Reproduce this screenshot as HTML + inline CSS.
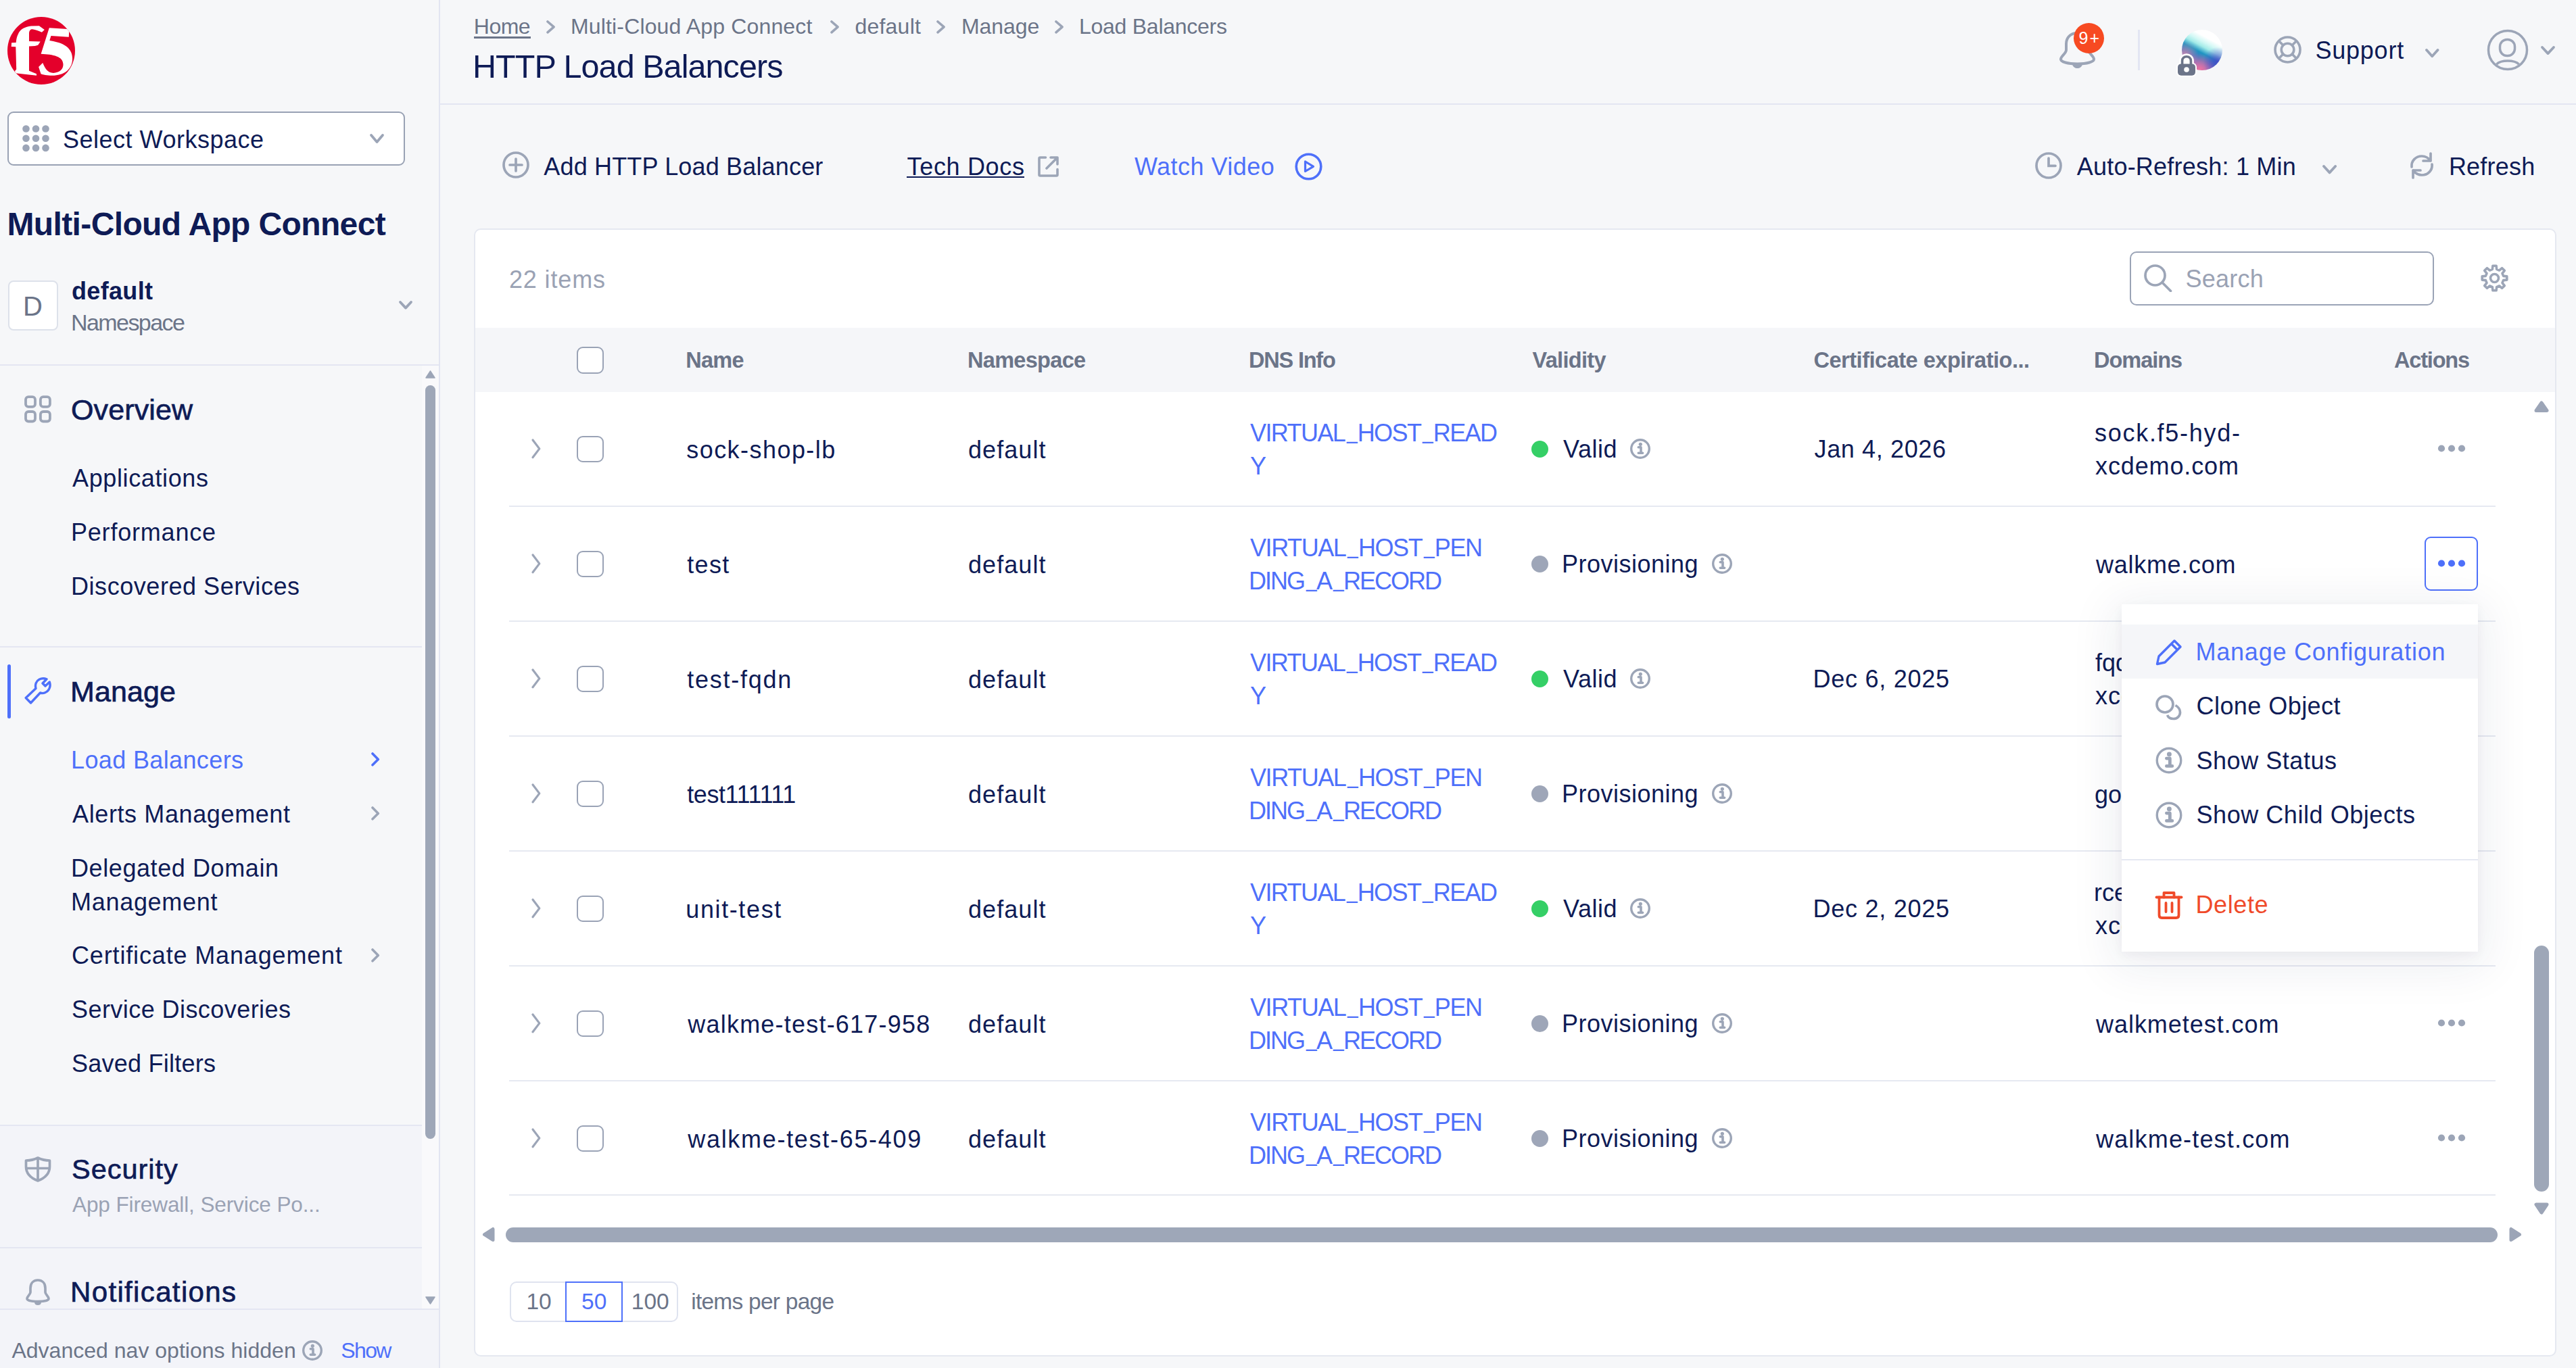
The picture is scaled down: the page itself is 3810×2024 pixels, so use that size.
<!DOCTYPE html>
<html><head><meta charset="utf-8"><style>
html,body{margin:0;padding:0;}
body{width:3810px;height:2024px;overflow:hidden;position:relative;background:#f6f7f9;font-family:"Liberation Sans",sans-serif;}
.t{position:absolute;white-space:pre;}
.r{position:absolute;}
.us{display:inline-block;transform:translate(1px,-4px) scaleX(0.78);}
.sec{position:absolute;left:0;top:1666px;width:648.5px;height:358px;background:#f3f4f9;}
</style></head><body>
<div class="sec"></div>
<div class="r" style="left:648.5px;top:0px;width:2px;height:2024px;background:#e2e5f1"></div>
<svg class="r" style="left:11px;top:25px" width="100" height="100" viewBox="0 0 100 100" fill="none"><defs><clipPath id="lc"><circle cx="50" cy="50" r="50"/></clipPath></defs>
<circle cx="50" cy="50" r="50" fill="#e4002b"/>
<g clip-path="url(#lc)" fill="#fff">
<path d="M11 80.3 L13.2 77.6 L12.3 44.3 L5.7 43.9 L6.1 38.2 L12.7 38 C13.5 30 15 27 17 23 C20 18 26 14.5 35 13.5 L46.9 13.2 L54.8 18.9 L50.9 22.8 C46 20.5 42 18.8 37 18.2 C34 18.2 32.3 20 32 24 L32 36 L48.7 36.4 L45.2 41.7 L40.8 43 L32 43.4 L32 79.8 L43 84.2 L43 86.8 L11.8 83.3 Z"/>
<path d="M61.8 16.2 L89 18 L91.2 20.2 L90.8 29.8 L64.5 28.1 L62.3 35.1 C76.8 37.3 96.1 42.5 96.1 61.8 C96.1 77.6 83.8 86.8 66.2 86.8 C58.3 86.8 52.2 85.5 49.6 84.6 L46.1 74.1 L52.2 68 C55.7 75.9 59.2 82.9 68 82.9 C76.8 82.9 82.5 77.6 82.5 70.6 C82.5 58.3 68 55.7 49.6 54.8 Z"/>
</g></svg>
<div class="r" style="left:11px;top:165px;width:588px;height:80px;border:2px solid #99a2b4;border-radius:9px;background:#fff;box-sizing:border-box"></div>
<svg class="r" style="left:33px;top:185px" width="41" height="40" viewBox="0 0 41 40" fill="none"><circle cx="5.5" cy="5.5" r="5.3" fill="#9ca5b7"/><circle cx="5.5" cy="19.7" r="5.3" fill="#9ca5b7"/><circle cx="5.5" cy="33.9" r="5.3" fill="#9ca5b7"/><circle cx="20.0" cy="5.5" r="5.3" fill="#9ca5b7"/><circle cx="20.0" cy="19.7" r="5.3" fill="#9ca5b7"/><circle cx="20.0" cy="33.9" r="5.3" fill="#9ca5b7"/><circle cx="34.5" cy="5.5" r="5.3" fill="#9ca5b7"/><circle cx="34.5" cy="19.7" r="5.3" fill="#9ca5b7"/><circle cx="34.5" cy="33.9" r="5.3" fill="#9ca5b7"/></svg>
<div class="t" style="left:93.00px;top:183.03px;font-size:36px;line-height:47px;color:#0e1b56;letter-spacing:0.504px;">Select Workspace</div>
<svg class="r" style="left:546.0px;top:197.2px" width="23.0" height="16.100000000000023" viewBox="0 0 23.0 16.100000000000023" fill="none"><path d="M3 3 L11.5 13.100000000000023 L20.0 3" stroke="#9ca5b7" stroke-width="3.8" stroke-linecap="round" stroke-linejoin="round"/></svg>
<div class="t" style="left:10.50px;top:300.87px;font-size:48px;line-height:62px;color:#0e1b56;letter-spacing:-0.632px;font-weight:700;">Multi-Cloud App Connect</div>
<div class="r" style="left:11.5px;top:414.5px;width:74px;height:74px;border:2px solid #dde1ea;border-radius:8px;background:#fff;box-sizing:border-box"></div>
<div class="t" style="left:34.00px;top:427.14px;font-size:40px;line-height:52px;color:#6b7488;letter-spacing:0.000px;">D</div>
<div class="t" style="left:106.00px;top:406.53px;font-size:36px;line-height:47px;color:#0e1b56;letter-spacing:0.331px;font-weight:700;">default</div>
<div class="t" style="left:105.00px;top:454.72px;font-size:34px;line-height:44px;color:#6b7488;letter-spacing:-1.564px;">Namespace</div>
<svg class="r" style="left:588.5px;top:444.2px" width="22.0" height="14.600000000000023" viewBox="0 0 22.0 14.600000000000023" fill="none"><path d="M3 3 L11.0 11.600000000000023 L19.0 3" stroke="#9ca5b7" stroke-width="3.8" stroke-linecap="round" stroke-linejoin="round"/></svg>
<div class="r" style="left:0px;top:539px;width:649px;height:2px;background:#e4e6f2"></div>
<div class="r" style="left:624px;top:541px;width:24.5px;height:1395px;background:#f9f9fb"></div>
<svg class="r" style="left:629px;top:548px" width="15" height="12" viewBox="0 0 15 12" fill="none"><path d="M7.5 1 L14 11 L1 11 Z" fill="#9ca5b7" stroke="#9ca5b7" stroke-linejoin="round" stroke-width="1.5"/></svg>
<div class="r" style="left:629px;top:570px;width:15px;height:1115px;background:#9ea7b8;border-radius:8px"></div>
<svg class="r" style="left:629px;top:1918px" width="15" height="12" viewBox="0 0 15 12" fill="none"><path d="M1 1 L14 1 L7.5 11 Z" fill="#9ca5b7" stroke="#9ca5b7" stroke-linejoin="round" stroke-width="1.5"/></svg>
<svg class="r" style="left:36px;top:585px" width="40" height="41" viewBox="0 0 40 41" fill="none"><g stroke="#9ca5b7" stroke-width="3.8" fill="none"><rect x="2" y="2.2" width="14" height="14.7" rx="4"/><rect x="23.9" y="2.2" width="14" height="14.7" rx="4"/><rect x="2" y="24" width="14" height="14.5" rx="4"/><rect x="23.9" y="24" width="14" height="14.5" rx="4"/></g></svg>
<div class="t" style="left:105.00px;top:578.10px;font-size:43px;line-height:56px;color:#0e1b56;letter-spacing:0.122px;-webkit-text-stroke:0.7px currentColor;">Overview</div>
<div class="t" style="left:107.00px;top:684.03px;font-size:36px;line-height:47px;color:#0e1b56;letter-spacing:0.626px;">Applications</div>
<div class="t" style="left:105.00px;top:764.03px;font-size:36px;line-height:47px;color:#0e1b56;letter-spacing:0.794px;">Performance</div>
<div class="t" style="left:105.00px;top:844.03px;font-size:36px;line-height:47px;color:#0e1b56;letter-spacing:0.549px;">Discovered Services</div>
<div class="r" style="left:0px;top:956px;width:624px;height:2px;background:#e4e6f2"></div>
<div class="r" style="left:11px;top:983px;width:5px;height:80px;background:#4e70fa;border-radius:3px"></div>
<svg class="r" style="left:36px;top:1002px" width="40" height="40" viewBox="0 0 40 40" fill="none"><path d="M2.2 30.5 L17 16.5 C15.5 11 17.5 5.5 22 3.2 C25.5 1.5 29.5 1.5 33 2.8 L27 9 L31 13 L37.3 7 C38.5 10.5 38.3 14.5 36.3 18 C33.5 22.5 28.5 24.5 23.5 23 L9.5 38 Z" stroke="#4e70fa" stroke-width="3.4" stroke-linejoin="round"/></svg>
<div class="t" style="left:104.00px;top:995.10px;font-size:43px;line-height:56px;color:#0e1b56;letter-spacing:0.104px;-webkit-text-stroke:0.7px currentColor;">Manage</div>
<div class="t" style="left:105.00px;top:1100.53px;font-size:36px;line-height:47px;color:#4e70fa;letter-spacing:0.371px;">Load Balancers</div>
<svg class="r" style="left:548.1px;top:1111.6px" width="14.299999999999955" height="22.800000000000182" viewBox="0 0 14.299999999999955 22.800000000000182" fill="none"><path d="M3 3 L11.299999999999955 11.400000000000091 L3 19.800000000000182" stroke="#4e70fa" stroke-width="3.6" stroke-linecap="round" stroke-linejoin="round"/></svg>
<div class="t" style="left:107.00px;top:1180.53px;font-size:36px;line-height:47px;color:#0e1b56;letter-spacing:0.616px;">Alerts Management</div>
<svg class="r" style="left:548.1px;top:1191.6px" width="14.299999999999955" height="22.800000000000182" viewBox="0 0 14.299999999999955 22.800000000000182" fill="none"><path d="M3 3 L11.299999999999955 11.400000000000091 L3 19.800000000000182" stroke="#9ca5b7" stroke-width="3.6" stroke-linecap="round" stroke-linejoin="round"/></svg>
<div class="t" style="left:105.00px;top:1260.53px;font-size:36px;line-height:47px;color:#0e1b56;letter-spacing:0.590px;">Delegated Domain</div>
<div class="t" style="left:105.00px;top:1310.53px;font-size:36px;line-height:47px;color:#0e1b56;letter-spacing:0.708px;">Management</div>
<div class="t" style="left:106.00px;top:1390.03px;font-size:36px;line-height:47px;color:#0e1b56;letter-spacing:0.848px;">Certificate Management</div>
<svg class="r" style="left:548.1px;top:1401.6px" width="14.299999999999955" height="22.800000000000182" viewBox="0 0 14.299999999999955 22.800000000000182" fill="none"><path d="M3 3 L11.299999999999955 11.400000000000091 L3 19.800000000000182" stroke="#9ca5b7" stroke-width="3.6" stroke-linecap="round" stroke-linejoin="round"/></svg>
<div class="t" style="left:106.00px;top:1470.03px;font-size:36px;line-height:47px;color:#0e1b56;letter-spacing:0.439px;">Service Discoveries</div>
<div class="t" style="left:106.00px;top:1550.03px;font-size:36px;line-height:47px;color:#0e1b56;letter-spacing:0.244px;">Saved Filters</div>
<div class="r" style="left:0px;top:1664px;width:624px;height:2px;background:#e4e6f2"></div>
<svg class="r" style="left:36px;top:1711px" width="40" height="38" viewBox="0 0 40 38" fill="none"><path d="M20 2 C14 5 8 6 2.5 6 L2.5 15 C2.5 25 9.5 32 20 36 C30.5 32 37.5 25 37.5 15 L37.5 6 C32 6 26 5 20 2 Z M20 2.5 L20 35.5 M2.8 17.5 L37.2 17.5" stroke="#9ca5b7" stroke-width="3.7" stroke-linejoin="round"/></svg>
<div class="t" style="left:106.00px;top:1702.62px;font-size:41.5px;line-height:54px;color:#0e1b56;letter-spacing:0.977px;-webkit-text-stroke:0.7px currentColor;">Security</div>
<div class="t" style="left:107.00px;top:1761.59px;font-size:31.5px;line-height:41px;color:#9aa2b4;letter-spacing:-0.101px;">App Firewall, Service Po...</div>
<div class="r" style="left:0px;top:1845px;width:624px;height:2px;background:#e4e6f2"></div>
<svg class="r" style="left:36px;top:1891px" width="40" height="41" viewBox="0 0 40 41" fill="none"><path d="M20 3 C12.5 3 9 8.5 9 15 L9 21 C9 24 4 27 4 30.5 C4 33 10 34.5 20 34.5 C30 34.5 36 33 36 30.5 C36 27 31 24 31 21 L31 15 C31 8.5 27.5 3 20 3 Z" stroke="#9ca5b7" stroke-width="3.7" stroke-linejoin="round"/><path d="M15 35.5 C15 38.5 17 40 20 40 C23 40 25 38.5 25 35.5 Z" fill="#9ca5b7"/></svg>
<div class="t" style="left:104.00px;top:1884.25px;font-size:42px;line-height:55px;color:#0e1b56;letter-spacing:1.353px;-webkit-text-stroke:0.7px currentColor;">Notifications</div>
<div class="r" style="left:0px;top:1936px;width:649px;height:2px;background:#e4e6f2"></div>
<div class="t" style="left:17.40px;top:1976.91px;font-size:32px;line-height:42px;color:#6b7488;letter-spacing:0.016px;">Advanced nav options hidden</div>
<svg class="r" style="left:447px;top:1983px" width="30" height="30" viewBox="0 0 30 30" fill="none"><g transform="scale(1.0)"><circle cx="15" cy="15" r="13.3" stroke="#9ca5b7" stroke-width="3.4"/><circle cx="15.3" cy="8.3" r="2.6" fill="#9ca5b7"/><path d="M12.3 12.8 L16 12.8 L16 20.8 M12.3 21.3 L18.6 21.3" stroke="#9ca5b7" stroke-width="3.6" stroke-linecap="round" stroke-linejoin="round"/></g></svg>
<div class="t" style="left:504.30px;top:1976.91px;font-size:32px;line-height:42px;color:#4e70fa;letter-spacing:-1.646px;">Show</div>
<div class="r" style="left:650px;top:152.5px;width:3160px;height:2px;background:#e3e6f2"></div>
<div class="t" style="left:700.80px;top:18.01px;font-size:32px;line-height:42px;color:#6b7488;letter-spacing:-0.521px;">Home</div>
<div class="r" style="left:701px;top:54.3px;width:84px;height:2.3px;background:#6b7488"></div>
<svg class="r" style="left:807.4px;top:28.6px" width="15.099999999999909" height="21.799999999999997" viewBox="0 0 15.099999999999909 21.799999999999997" fill="none"><path d="M3 3 L12.099999999999909 10.899999999999999 L3 18.799999999999997" stroke="#9ca5b7" stroke-width="3.6" stroke-linecap="round" stroke-linejoin="round"/></svg>
<svg class="r" style="left:1227.1px;top:28.6px" width="15.100000000000136" height="21.799999999999997" viewBox="0 0 15.100000000000136 21.799999999999997" fill="none"><path d="M3 3 L12.100000000000136 10.899999999999999 L3 18.799999999999997" stroke="#9ca5b7" stroke-width="3.6" stroke-linecap="round" stroke-linejoin="round"/></svg>
<svg class="r" style="left:1384.1px;top:28.6px" width="15.100000000000136" height="21.799999999999997" viewBox="0 0 15.100000000000136 21.799999999999997" fill="none"><path d="M3 3 L12.100000000000136 10.899999999999999 L3 18.799999999999997" stroke="#9ca5b7" stroke-width="3.6" stroke-linecap="round" stroke-linejoin="round"/></svg>
<svg class="r" style="left:1558.6px;top:28.6px" width="15.100000000000136" height="21.799999999999997" viewBox="0 0 15.100000000000136 21.799999999999997" fill="none"><path d="M3 3 L12.100000000000136 10.899999999999999 L3 18.799999999999997" stroke="#9ca5b7" stroke-width="3.6" stroke-linecap="round" stroke-linejoin="round"/></svg>
<div class="t" style="left:844.00px;top:18.01px;font-size:32px;line-height:42px;color:#6b7488;letter-spacing:0.153px;">Multi-Cloud App Connect</div>
<div class="t" style="left:1264.40px;top:18.01px;font-size:32px;line-height:42px;color:#6b7488;letter-spacing:0.235px;">default</div>
<div class="t" style="left:1422.00px;top:18.01px;font-size:32px;line-height:42px;color:#6b7488;letter-spacing:-0.069px;">Manage</div>
<div class="t" style="left:1596.00px;top:18.01px;font-size:32px;line-height:42px;color:#6b7488;letter-spacing:-0.260px;">Load Balancers</div>
<div class="t" style="left:699.00px;top:66.69px;font-size:48.5px;line-height:63px;color:#0e1b56;letter-spacing:-0.938px;">HTTP Load Balancers</div>
<svg class="r" style="left:3045px;top:45px" width="56" height="57" viewBox="0 0 56 57" fill="none"><path d="M27 4 C17 4 11 11 11 20 L11 29 C11 34 3 38 3 42.5 C3 46.5 13 49.5 27.5 49.5 C42 49.5 52 46.5 52 42.5 C52 38 44 34 44 29 L44 20 C44 11 37 4 27 4 Z" stroke="#9ca5b7" stroke-width="4" stroke-linejoin="round"/><path d="M20 50 C21 54 24 56 27.5 56 C31 56 34 54 35 50 Z" fill="#9ca5b7"/></svg>
<div class="r" style="left:3067px;top:34px;width:45px;height:45px;background:#f74a22;border-radius:50%"></div>
<div class="t" style="left:3074.50px;top:40.34px;font-size:25px;line-height:32px;color:#fff;letter-spacing:2.096px;">9+</div>
<div class="r" style="left:3162px;top:44px;width:3px;height:60px;background:#e3e6f3"></div>
<div class="r" style="left:3227px;top:44px;width:60px;height:60px;border-radius:50%;background:radial-gradient(circle at 88% 78%,rgba(80,50,200,0.7),rgba(80,50,200,0) 30%),radial-gradient(circle at 8% 62%,rgba(225,140,170,0.75),rgba(225,140,170,0) 30%),radial-gradient(circle at 45% 98%,rgba(240,115,160,0.95),rgba(240,115,160,0) 35%),linear-gradient(208deg,#ffffff 0%,#ffffff 26%,#d2f8f5 36%,#a3ebe8 44%,#1f94c2 55%,#3f78c2 66%,#8a6cc0 80%,#e27aa6 100%)"></div>
<svg class="r" style="left:3216px;top:76px" width="34" height="40" viewBox="0 0 34 40" fill="none"><g stroke="#fff" stroke-width="9" fill="#fff"><path d="M11.6 19 L11.6 14 C11.6 9.8 14.5 7.7 18 7.7 C21.5 7.7 24.4 9.8 24.4 14 L24.4 19 Z"/></g><rect x="3" y="16.4" width="30" height="21.3" rx="7" fill="#fff"/><path d="M11.6 19 L11.6 14 C11.6 9.8 14.5 7.7 18 7.7 C21.5 7.7 24.4 9.8 24.4 14 L24.4 19" stroke="#6b7489" stroke-width="3.6" fill="none"/><rect x="5" y="18.4" width="26" height="17.3" rx="5" fill="#6b7489"/><circle cx="18" cy="27" r="3.8" fill="#fff"/></svg>
<svg class="r" style="left:3363px;top:53px" width="41" height="41" viewBox="0 0 41 41" fill="none"><g stroke="#9ca5b7" stroke-width="3.6"><circle cx="20.5" cy="20.5" r="18.5"/><circle cx="20.5" cy="20.5" r="9.3"/><path d="M7.4 7.4 L13.9 13.9 M33.6 7.4 L27.1 13.9 M7.4 33.6 L13.9 27.1 M33.6 33.6 L27.1 27.1"/></g></svg>
<div class="t" style="left:3424.40px;top:50.53px;font-size:36px;line-height:47px;color:#0e1b56;letter-spacing:0.786px;">Support</div>
<svg class="r" style="left:3585.5px;top:70.9px" width="22.5" height="15.199999999999989" viewBox="0 0 22.5 15.199999999999989" fill="none"><path d="M3 3 L11.25 12.199999999999989 L19.5 3" stroke="#9ca5b7" stroke-width="3.8" stroke-linecap="round" stroke-linejoin="round"/></svg>
<svg class="r" style="left:3678px;top:43px" width="62" height="62" viewBox="0 0 62 62" fill="none"><g stroke="#9ca5b7" stroke-width="3.5"><circle cx="31" cy="31" r="28.5"/><rect x="19.5" y="15.5" width="22" height="24" rx="10.5"/><path d="M14.5 52 C18 48.5 24 47 31 47 C38 47 44 48.5 47.5 52"/></g></svg>
<svg class="r" style="left:3757.0px;top:67.2px" width="23.0" height="15.099999999999994" viewBox="0 0 23.0 15.099999999999994" fill="none"><path d="M3 3 L11.5 12.099999999999994 L20.0 3" stroke="#9ca5b7" stroke-width="3.8" stroke-linecap="round" stroke-linejoin="round"/></svg>
<svg class="r" style="left:743px;top:223.5px" width="40" height="40" viewBox="0 0 40 40" fill="none"><g stroke="#9ca5b7" stroke-width="3.7" stroke-linecap="round"><circle cx="20" cy="20" r="18"/><path d="M20 11 L20 29 M11 20 L29 20"/></g></svg>
<div class="t" style="left:804.30px;top:223.13px;font-size:36px;line-height:47px;color:#0e1b56;letter-spacing:0.165px;">Add HTTP Load Balancer</div>
<div class="t" style="left:1341.50px;top:223.13px;font-size:36px;line-height:47px;color:#0e1b56;letter-spacing:0.679px;">Tech Docs</div>
<div class="r" style="left:1341px;top:260.5px;width:173.5px;height:2.5px;background:#0e1b56"></div>
<svg class="r" style="left:1534.5px;top:230.5px" width="31" height="31" viewBox="0 0 31 31" fill="none"><g stroke="#9ca5b7" stroke-width="3.6" stroke-linecap="round" stroke-linejoin="round"><path d="M11.5 2 L3.5 2 C2.5 2 2 2.5 2 3.5 L2 27.5 C2 28.5 2.5 29 3.5 29 L27.5 29 C28.5 29 29 28.5 29 27.5 L29 19.5"/><path d="M13 18 L28.5 2.5 M19 2 L29 2 L29 12"/></g></svg>
<div class="t" style="left:1678.00px;top:222.63px;font-size:36px;line-height:47px;color:#4e70fa;letter-spacing:0.471px;">Watch Video</div>
<svg class="r" style="left:1915px;top:225.5px" width="41" height="41" viewBox="0 0 41 41" fill="none"><circle cx="20.5" cy="20.5" r="18.3" stroke="#4e70fa" stroke-width="3.6"/><path d="M15.5 13 L15.5 27.5 L27.5 20.3 Z" stroke="#4e70fa" stroke-width="3.2" stroke-linejoin="round"/></svg>
<svg class="r" style="left:3009.5px;top:225px" width="40" height="40" viewBox="0 0 40 40" fill="none"><g stroke="#9ca5b7" stroke-width="3.7" stroke-linecap="round"><circle cx="20" cy="20" r="18"/><path d="M20 9 L20 20.3 L30 20.3"/></g></svg>
<div class="t" style="left:3071.70px;top:223.13px;font-size:36px;line-height:47px;color:#0e1b56;letter-spacing:0.222px;">Auto-Refresh: 1 Min</div>
<svg class="r" style="left:3434.2px;top:242.7px" width="23.100000000000364" height="15.400000000000034" viewBox="0 0 23.100000000000364 15.400000000000034" fill="none"><path d="M3 3 L11.550000000000182 12.400000000000034 L20.100000000000364 3" stroke="#9ca5b7" stroke-width="3.8" stroke-linecap="round" stroke-linejoin="round"/></svg>
<svg class="r" style="left:3564px;top:225px" width="36" height="40" viewBox="0 0 36 40" fill="none"><g stroke="#9ca5b7" stroke-width="3.7" stroke-linecap="round" stroke-linejoin="round"><path d="M3 22 C2 13 9 6 18 6 C24 6 28 9 31 13 M31 2 L31 13 L20 13"/><path d="M33 18 C34 27 27 34 18 34 C12 34 8 31 5 27 M5 38 L5 27 L16 27"/></g></svg>
<div class="t" style="left:3621.90px;top:223.13px;font-size:36px;line-height:47px;color:#0e1b56;letter-spacing:0.211px;">Refresh</div>
<div class="r" style="left:701px;top:338px;width:3080px;height:1669px;border:2px solid #e5e8f0;border-radius:10px;background:#fff;box-sizing:border-box"></div>
<div class="t" style="left:753.00px;top:390.03px;font-size:36px;line-height:47px;color:#9aa2b4;letter-spacing:0.849px;">22 items</div>
<div class="r" style="left:3150px;top:372px;width:449.5px;height:79.5px;border:2px solid #9aa3b6;border-radius:10px;background:#fff;box-sizing:border-box"></div>
<svg class="r" style="left:3171px;top:391px" width="42" height="41" viewBox="0 0 42 41" fill="none"><g stroke="#9ca5b7" stroke-width="3.7" stroke-linecap="round"><circle cx="16.5" cy="16.5" r="14.5"/><path d="M27 27 L39.5 39.5"/></g></svg>
<div class="t" style="left:3232.40px;top:389.13px;font-size:36px;line-height:47px;color:#9aa2b4;letter-spacing:0.251px;">Search</div>
<svg class="r" style="left:3669px;top:391px" width="41" height="41" viewBox="0 0 41 41" fill="none"><path d="M33.63 17.35 L38.82 17.89 L38.82 23.11 L33.63 23.65 L32.01 27.55 L35.29 31.61 L31.61 35.29 L27.55 32.01 L23.65 33.63 L23.11 38.82 L17.89 38.82 L17.35 33.63 L13.45 32.01 L9.39 35.29 L5.71 31.61 L8.99 27.55 L7.37 23.65 L2.18 23.11 L2.18 17.89 L7.37 17.35 L8.99 13.45 L5.71 9.39 L9.39 5.71 L13.45 8.99 L17.35 7.37 L17.89 2.18 L23.11 2.18 L23.65 7.37 L27.55 8.99 L31.61 5.71 L35.29 9.39 L32.01 13.45 Z" stroke="#9ca5b7" stroke-width="3.6" stroke-linejoin="round"/><circle cx="20.5" cy="20.5" r="6" stroke="#9ca5b7" stroke-width="3.6"/></svg>
<div class="r" style="left:703px;top:485px;width:3076px;height:95px;background:#f5f6f9"></div>
<div class="r" style="left:853.2px;top:513px;width:39.5px;height:39.5px;border:2px solid #9aa3b6;border-radius:9px;background:#fff;box-sizing:border-box"></div>
<div class="t" style="left:1014.25px;top:512.24px;font-size:32.5px;line-height:42px;color:#6b7488;letter-spacing:-0.731px;font-weight:700;">Name</div>
<div class="t" style="left:1431.00px;top:512.24px;font-size:32.5px;line-height:42px;color:#6b7488;letter-spacing:-0.699px;font-weight:700;">Namespace</div>
<div class="t" style="left:1847.00px;top:512.24px;font-size:32.5px;line-height:42px;color:#6b7488;letter-spacing:-1.193px;font-weight:700;">DNS Info</div>
<div class="t" style="left:2266.50px;top:512.24px;font-size:32.5px;line-height:42px;color:#6b7488;letter-spacing:-0.675px;font-weight:700;">Validity</div>
<div class="t" style="left:2682.50px;top:512.24px;font-size:32.5px;line-height:42px;color:#6b7488;letter-spacing:-0.478px;font-weight:700;">Certificate expiratio...</div>
<div class="t" style="left:3097.00px;top:512.24px;font-size:32.5px;line-height:42px;color:#6b7488;letter-spacing:-1.030px;font-weight:700;">Domains</div>
<div class="t" style="left:3541.00px;top:512.24px;font-size:32.5px;line-height:42px;color:#6b7488;letter-spacing:-1.184px;font-weight:700;">Actions</div>
<svg class="r" style="left:785.1px;top:648.1px" width="15.799999999999955" height="31.799999999999955" viewBox="0 0 15.799999999999955 31.799999999999955" fill="none"><path d="M3 3 L12.799999999999955 15.899999999999977 L3 28.799999999999955" stroke="#9ca5b7" stroke-width="3.2" stroke-linecap="round" stroke-linejoin="round"/></svg>
<div class="r" style="left:853.2px;top:644.5px;width:39.5px;height:39.5px;border:2px solid #9aa3b6;border-radius:9px;background:#fff;box-sizing:border-box"></div>
<div class="t" style="left:1015.25px;top:641.53px;font-size:36px;line-height:47px;color:#0e1b56;letter-spacing:1.449px;">sock-shop-lb</div>
<div class="t" style="left:1432.00px;top:641.53px;font-size:36px;line-height:47px;color:#0e1b56;letter-spacing:1.069px;">default</div>
<div class="t" style="left:1849.00px;top:616.53px;font-size:36px;line-height:47px;color:#4e70fa;letter-spacing:-1.591px;">VIRTUAL<span class="us">_</span>HOST<span class="us">_</span>READ</div>
<div class="t" style="left:1849.00px;top:666.03px;font-size:36px;line-height:47px;color:#4e70fa;letter-spacing:0.000px;">Y</div>
<div class="r" style="left:2264.75px;top:651.75px;width:25px;height:25px;background:#35cf66;border-radius:50%"></div>
<div class="t" style="left:2312.00px;top:641.03px;font-size:36px;line-height:47px;color:#0e1b56;letter-spacing:0.536px;">Valid</div>
<svg class="r" style="left:2410.5px;top:649px" width="30" height="30" viewBox="0 0 30 30" fill="none"><g transform="scale(1.0)"><circle cx="15" cy="15" r="13.3" stroke="#9ca5b7" stroke-width="3.4"/><circle cx="15.3" cy="8.3" r="2.6" fill="#9ca5b7"/><path d="M12.3 12.8 L16 12.8 L16 20.8 M12.3 21.3 L18.6 21.3" stroke="#9ca5b7" stroke-width="3.6" stroke-linecap="round" stroke-linejoin="round"/></g></svg>
<div class="t" style="left:2683.50px;top:641.03px;font-size:36px;line-height:47px;color:#0e1b56;letter-spacing:0.637px;">Jan 4, 2026</div>
<div class="t" style="left:3098.00px;top:616.53px;font-size:36px;line-height:47px;color:#0e1b56;letter-spacing:1.720px;">sock.f5-hyd-</div>
<div class="t" style="left:3099.00px;top:666.03px;font-size:36px;line-height:47px;color:#0e1b56;letter-spacing:0.880px;">xcdemo.com</div>
<svg class="r" style="left:3604px;top:657px" width="43" height="13" viewBox="0 0 43 13" fill="none"><circle cx="7" cy="6.5" r="5.1" fill="#9ca5b7"/><circle cx="22" cy="6.5" r="5.1" fill="#9ca5b7"/><circle cx="37" cy="6.5" r="5.1" fill="#9ca5b7"/></svg>
<div class="r" style="left:753px;top:748px;width:2938px;height:2px;background:#e6e9f1"></div>
<svg class="r" style="left:785.1px;top:818.1px" width="15.799999999999955" height="31.799999999999955" viewBox="0 0 15.799999999999955 31.799999999999955" fill="none"><path d="M3 3 L12.799999999999955 15.899999999999977 L3 28.799999999999955" stroke="#9ca5b7" stroke-width="3.2" stroke-linecap="round" stroke-linejoin="round"/></svg>
<div class="r" style="left:853.2px;top:814.5px;width:39.5px;height:39.5px;border:2px solid #9aa3b6;border-radius:9px;background:#fff;box-sizing:border-box"></div>
<div class="t" style="left:1016.25px;top:811.53px;font-size:36px;line-height:47px;color:#0e1b56;letter-spacing:1.326px;">test</div>
<div class="t" style="left:1432.00px;top:811.53px;font-size:36px;line-height:47px;color:#0e1b56;letter-spacing:1.069px;">default</div>
<div class="t" style="left:1849.00px;top:786.53px;font-size:36px;line-height:47px;color:#4e70fa;letter-spacing:-1.430px;">VIRTUAL<span class="us">_</span>HOST<span class="us">_</span>PEN</div>
<div class="t" style="left:1847.00px;top:836.03px;font-size:36px;line-height:47px;color:#4e70fa;letter-spacing:-2.005px;">DING<span class="us">_</span>A<span class="us">_</span>RECORD</div>
<div class="r" style="left:2264.75px;top:821.75px;width:25px;height:25px;background:#9ea6b8;border-radius:50%"></div>
<div class="t" style="left:2310.00px;top:811.03px;font-size:36px;line-height:47px;color:#0e1b56;letter-spacing:0.493px;">Provisioning</div>
<svg class="r" style="left:2531.5px;top:819px" width="30" height="30" viewBox="0 0 30 30" fill="none"><g transform="scale(1.0)"><circle cx="15" cy="15" r="13.3" stroke="#9ca5b7" stroke-width="3.4"/><circle cx="15.3" cy="8.3" r="2.6" fill="#9ca5b7"/><path d="M12.3 12.8 L16 12.8 L16 20.8 M12.3 21.3 L18.6 21.3" stroke="#9ca5b7" stroke-width="3.6" stroke-linecap="round" stroke-linejoin="round"/></g></svg>
<div class="t" style="left:3100.00px;top:811.53px;font-size:36px;line-height:47px;color:#0e1b56;letter-spacing:0.717px;">walkme.com</div>
<div class="r" style="left:3586px;top:794px;width:79px;height:79.5px;border:2px solid #4e70fa;border-radius:9px;background:#fff;box-sizing:border-box"></div>
<svg class="r" style="left:3604px;top:827px" width="43" height="13" viewBox="0 0 43 13" fill="none"><circle cx="7" cy="6.5" r="5.1" fill="#4e70fa"/><circle cx="22" cy="6.5" r="5.1" fill="#4e70fa"/><circle cx="37" cy="6.5" r="5.1" fill="#4e70fa"/></svg>
<div class="r" style="left:753px;top:918px;width:2938px;height:2px;background:#e6e9f1"></div>
<svg class="r" style="left:785.1px;top:988.1px" width="15.799999999999955" height="31.799999999999955" viewBox="0 0 15.799999999999955 31.799999999999955" fill="none"><path d="M3 3 L12.799999999999955 15.899999999999977 L3 28.799999999999955" stroke="#9ca5b7" stroke-width="3.2" stroke-linecap="round" stroke-linejoin="round"/></svg>
<div class="r" style="left:853.2px;top:984.5px;width:39.5px;height:39.5px;border:2px solid #9aa3b6;border-radius:9px;background:#fff;box-sizing:border-box"></div>
<div class="t" style="left:1016.25px;top:981.53px;font-size:36px;line-height:47px;color:#0e1b56;letter-spacing:1.743px;">test-fqdn</div>
<div class="t" style="left:1432.00px;top:981.53px;font-size:36px;line-height:47px;color:#0e1b56;letter-spacing:1.069px;">default</div>
<div class="t" style="left:1849.00px;top:956.53px;font-size:36px;line-height:47px;color:#4e70fa;letter-spacing:-1.591px;">VIRTUAL<span class="us">_</span>HOST<span class="us">_</span>READ</div>
<div class="t" style="left:1849.00px;top:1006.03px;font-size:36px;line-height:47px;color:#4e70fa;letter-spacing:0.000px;">Y</div>
<div class="r" style="left:2264.75px;top:991.75px;width:25px;height:25px;background:#35cf66;border-radius:50%"></div>
<div class="t" style="left:2312.00px;top:981.03px;font-size:36px;line-height:47px;color:#0e1b56;letter-spacing:0.536px;">Valid</div>
<svg class="r" style="left:2410.5px;top:989px" width="30" height="30" viewBox="0 0 30 30" fill="none"><g transform="scale(1.0)"><circle cx="15" cy="15" r="13.3" stroke="#9ca5b7" stroke-width="3.4"/><circle cx="15.3" cy="8.3" r="2.6" fill="#9ca5b7"/><path d="M12.3 12.8 L16 12.8 L16 20.8 M12.3 21.3 L18.6 21.3" stroke="#9ca5b7" stroke-width="3.6" stroke-linecap="round" stroke-linejoin="round"/></g></svg>
<div class="t" style="left:2681.50px;top:981.03px;font-size:36px;line-height:47px;color:#0e1b56;letter-spacing:0.739px;">Dec 6, 2025</div>
<div class="t" style="left:3099.00px;top:956.53px;font-size:36px;line-height:47px;color:#0e1b56;letter-spacing:0.000px;">fqdn.f5-hyd-</div>
<div class="t" style="left:3099.00px;top:1006.03px;font-size:36px;line-height:47px;color:#0e1b56;letter-spacing:0.880px;">xcdemo.com</div>
<svg class="r" style="left:3604px;top:997px" width="43" height="13" viewBox="0 0 43 13" fill="none"><circle cx="7" cy="6.5" r="5.1" fill="#9ca5b7"/><circle cx="22" cy="6.5" r="5.1" fill="#9ca5b7"/><circle cx="37" cy="6.5" r="5.1" fill="#9ca5b7"/></svg>
<div class="r" style="left:753px;top:1088px;width:2938px;height:2px;background:#e6e9f1"></div>
<svg class="r" style="left:785.1px;top:1158.1px" width="15.799999999999955" height="31.800000000000182" viewBox="0 0 15.799999999999955 31.800000000000182" fill="none"><path d="M3 3 L12.799999999999955 15.900000000000091 L3 28.800000000000182" stroke="#9ca5b7" stroke-width="3.2" stroke-linecap="round" stroke-linejoin="round"/></svg>
<div class="r" style="left:853.2px;top:1154.5px;width:39.5px;height:39.5px;border:2px solid #9aa3b6;border-radius:9px;background:#fff;box-sizing:border-box"></div>
<div class="t" style="left:1016.25px;top:1151.53px;font-size:36px;line-height:47px;color:#0e1b56;letter-spacing:-0.419px;">test111111</div>
<div class="t" style="left:1432.00px;top:1151.53px;font-size:36px;line-height:47px;color:#0e1b56;letter-spacing:1.069px;">default</div>
<div class="t" style="left:1849.00px;top:1126.53px;font-size:36px;line-height:47px;color:#4e70fa;letter-spacing:-1.430px;">VIRTUAL<span class="us">_</span>HOST<span class="us">_</span>PEN</div>
<div class="t" style="left:1847.00px;top:1176.03px;font-size:36px;line-height:47px;color:#4e70fa;letter-spacing:-2.005px;">DING<span class="us">_</span>A<span class="us">_</span>RECORD</div>
<div class="r" style="left:2264.75px;top:1161.75px;width:25px;height:25px;background:#9ea6b8;border-radius:50%"></div>
<div class="t" style="left:2310.00px;top:1151.03px;font-size:36px;line-height:47px;color:#0e1b56;letter-spacing:0.493px;">Provisioning</div>
<svg class="r" style="left:2531.5px;top:1159px" width="30" height="30" viewBox="0 0 30 30" fill="none"><g transform="scale(1.0)"><circle cx="15" cy="15" r="13.3" stroke="#9ca5b7" stroke-width="3.4"/><circle cx="15.3" cy="8.3" r="2.6" fill="#9ca5b7"/><path d="M12.3 12.8 L16 12.8 L16 20.8 M12.3 21.3 L18.6 21.3" stroke="#9ca5b7" stroke-width="3.6" stroke-linecap="round" stroke-linejoin="round"/></g></svg>
<div class="t" style="left:3098.00px;top:1151.53px;font-size:36px;line-height:47px;color:#0e1b56;letter-spacing:0.000px;">google.com</div>
<svg class="r" style="left:3604px;top:1167px" width="43" height="13" viewBox="0 0 43 13" fill="none"><circle cx="7" cy="6.5" r="5.1" fill="#9ca5b7"/><circle cx="22" cy="6.5" r="5.1" fill="#9ca5b7"/><circle cx="37" cy="6.5" r="5.1" fill="#9ca5b7"/></svg>
<div class="r" style="left:753px;top:1258px;width:2938px;height:2px;background:#e6e9f1"></div>
<svg class="r" style="left:785.1px;top:1328.1px" width="15.799999999999955" height="31.800000000000182" viewBox="0 0 15.799999999999955 31.800000000000182" fill="none"><path d="M3 3 L12.799999999999955 15.900000000000091 L3 28.800000000000182" stroke="#9ca5b7" stroke-width="3.2" stroke-linecap="round" stroke-linejoin="round"/></svg>
<div class="r" style="left:853.2px;top:1324.5px;width:39.5px;height:39.5px;border:2px solid #9aa3b6;border-radius:9px;background:#fff;box-sizing:border-box"></div>
<div class="t" style="left:1014.25px;top:1321.53px;font-size:36px;line-height:47px;color:#0e1b56;letter-spacing:1.618px;">unit-test</div>
<div class="t" style="left:1432.00px;top:1321.53px;font-size:36px;line-height:47px;color:#0e1b56;letter-spacing:1.069px;">default</div>
<div class="t" style="left:1849.00px;top:1296.53px;font-size:36px;line-height:47px;color:#4e70fa;letter-spacing:-1.591px;">VIRTUAL<span class="us">_</span>HOST<span class="us">_</span>READ</div>
<div class="t" style="left:1849.00px;top:1346.03px;font-size:36px;line-height:47px;color:#4e70fa;letter-spacing:0.000px;">Y</div>
<div class="r" style="left:2264.75px;top:1331.75px;width:25px;height:25px;background:#35cf66;border-radius:50%"></div>
<div class="t" style="left:2312.00px;top:1321.03px;font-size:36px;line-height:47px;color:#0e1b56;letter-spacing:0.536px;">Valid</div>
<svg class="r" style="left:2410.5px;top:1329px" width="30" height="30" viewBox="0 0 30 30" fill="none"><g transform="scale(1.0)"><circle cx="15" cy="15" r="13.3" stroke="#9ca5b7" stroke-width="3.4"/><circle cx="15.3" cy="8.3" r="2.6" fill="#9ca5b7"/><path d="M12.3 12.8 L16 12.8 L16 20.8 M12.3 21.3 L18.6 21.3" stroke="#9ca5b7" stroke-width="3.6" stroke-linecap="round" stroke-linejoin="round"/></g></svg>
<div class="t" style="left:2681.50px;top:1321.03px;font-size:36px;line-height:47px;color:#0e1b56;letter-spacing:0.739px;">Dec 2, 2025</div>
<div class="t" style="left:3097.00px;top:1296.53px;font-size:36px;line-height:47px;color:#0e1b56;letter-spacing:0.000px;">rce.f5-hyd-</div>
<div class="t" style="left:3099.00px;top:1346.03px;font-size:36px;line-height:47px;color:#0e1b56;letter-spacing:0.880px;">xcdemo.com</div>
<svg class="r" style="left:3604px;top:1337px" width="43" height="13" viewBox="0 0 43 13" fill="none"><circle cx="7" cy="6.5" r="5.1" fill="#9ca5b7"/><circle cx="22" cy="6.5" r="5.1" fill="#9ca5b7"/><circle cx="37" cy="6.5" r="5.1" fill="#9ca5b7"/></svg>
<div class="r" style="left:753px;top:1428px;width:2938px;height:2px;background:#e6e9f1"></div>
<svg class="r" style="left:785.1px;top:1498.1px" width="15.799999999999955" height="31.800000000000182" viewBox="0 0 15.799999999999955 31.800000000000182" fill="none"><path d="M3 3 L12.799999999999955 15.900000000000091 L3 28.800000000000182" stroke="#9ca5b7" stroke-width="3.2" stroke-linecap="round" stroke-linejoin="round"/></svg>
<div class="r" style="left:853.2px;top:1494.5px;width:39.5px;height:39.5px;border:2px solid #9aa3b6;border-radius:9px;background:#fff;box-sizing:border-box"></div>
<div class="t" style="left:1017.25px;top:1491.53px;font-size:36px;line-height:47px;color:#0e1b56;letter-spacing:1.215px;">walkme-test-617-958</div>
<div class="t" style="left:1432.00px;top:1491.53px;font-size:36px;line-height:47px;color:#0e1b56;letter-spacing:1.069px;">default</div>
<div class="t" style="left:1849.00px;top:1466.53px;font-size:36px;line-height:47px;color:#4e70fa;letter-spacing:-1.430px;">VIRTUAL<span class="us">_</span>HOST<span class="us">_</span>PEN</div>
<div class="t" style="left:1847.00px;top:1516.03px;font-size:36px;line-height:47px;color:#4e70fa;letter-spacing:-2.005px;">DING<span class="us">_</span>A<span class="us">_</span>RECORD</div>
<div class="r" style="left:2264.75px;top:1501.75px;width:25px;height:25px;background:#9ea6b8;border-radius:50%"></div>
<div class="t" style="left:2310.00px;top:1491.03px;font-size:36px;line-height:47px;color:#0e1b56;letter-spacing:0.493px;">Provisioning</div>
<svg class="r" style="left:2531.5px;top:1499px" width="30" height="30" viewBox="0 0 30 30" fill="none"><g transform="scale(1.0)"><circle cx="15" cy="15" r="13.3" stroke="#9ca5b7" stroke-width="3.4"/><circle cx="15.3" cy="8.3" r="2.6" fill="#9ca5b7"/><path d="M12.3 12.8 L16 12.8 L16 20.8 M12.3 21.3 L18.6 21.3" stroke="#9ca5b7" stroke-width="3.6" stroke-linecap="round" stroke-linejoin="round"/></g></svg>
<div class="t" style="left:3100.00px;top:1491.53px;font-size:36px;line-height:47px;color:#0e1b56;letter-spacing:0.956px;">walkmetest.com</div>
<svg class="r" style="left:3604px;top:1507px" width="43" height="13" viewBox="0 0 43 13" fill="none"><circle cx="7" cy="6.5" r="5.1" fill="#9ca5b7"/><circle cx="22" cy="6.5" r="5.1" fill="#9ca5b7"/><circle cx="37" cy="6.5" r="5.1" fill="#9ca5b7"/></svg>
<div class="r" style="left:753px;top:1598px;width:2938px;height:2px;background:#e6e9f1"></div>
<svg class="r" style="left:785.1px;top:1668.1px" width="15.799999999999955" height="31.800000000000182" viewBox="0 0 15.799999999999955 31.800000000000182" fill="none"><path d="M3 3 L12.799999999999955 15.900000000000091 L3 28.800000000000182" stroke="#9ca5b7" stroke-width="3.2" stroke-linecap="round" stroke-linejoin="round"/></svg>
<div class="r" style="left:853.2px;top:1664.5px;width:39.5px;height:39.5px;border:2px solid #9aa3b6;border-radius:9px;background:#fff;box-sizing:border-box"></div>
<div class="t" style="left:1017.25px;top:1661.53px;font-size:36px;line-height:47px;color:#0e1b56;letter-spacing:1.700px;">walkme-test-65-409</div>
<div class="t" style="left:1432.00px;top:1661.53px;font-size:36px;line-height:47px;color:#0e1b56;letter-spacing:1.069px;">default</div>
<div class="t" style="left:1849.00px;top:1636.53px;font-size:36px;line-height:47px;color:#4e70fa;letter-spacing:-1.430px;">VIRTUAL<span class="us">_</span>HOST<span class="us">_</span>PEN</div>
<div class="t" style="left:1847.00px;top:1686.03px;font-size:36px;line-height:47px;color:#4e70fa;letter-spacing:-2.005px;">DING<span class="us">_</span>A<span class="us">_</span>RECORD</div>
<div class="r" style="left:2264.75px;top:1671.75px;width:25px;height:25px;background:#9ea6b8;border-radius:50%"></div>
<div class="t" style="left:2310.00px;top:1661.03px;font-size:36px;line-height:47px;color:#0e1b56;letter-spacing:0.493px;">Provisioning</div>
<svg class="r" style="left:2531.5px;top:1669px" width="30" height="30" viewBox="0 0 30 30" fill="none"><g transform="scale(1.0)"><circle cx="15" cy="15" r="13.3" stroke="#9ca5b7" stroke-width="3.4"/><circle cx="15.3" cy="8.3" r="2.6" fill="#9ca5b7"/><path d="M12.3 12.8 L16 12.8 L16 20.8 M12.3 21.3 L18.6 21.3" stroke="#9ca5b7" stroke-width="3.6" stroke-linecap="round" stroke-linejoin="round"/></g></svg>
<div class="t" style="left:3100.00px;top:1661.53px;font-size:36px;line-height:47px;color:#0e1b56;letter-spacing:1.174px;">walkme-test.com</div>
<svg class="r" style="left:3604px;top:1677px" width="43" height="13" viewBox="0 0 43 13" fill="none"><circle cx="7" cy="6.5" r="5.1" fill="#9ca5b7"/><circle cx="22" cy="6.5" r="5.1" fill="#9ca5b7"/><circle cx="37" cy="6.5" r="5.1" fill="#9ca5b7"/></svg>
<div class="r" style="left:753px;top:1767px;width:2938px;height:2px;background:#e6e9f1"></div>
<svg class="r" style="left:3747px;top:592px" width="24" height="20" viewBox="0 0 24 20" fill="none"><path d="M12 4 L20 15.5 L4 15.5 Z" fill="#9ca5b7" stroke="#9ca5b7" stroke-width="5" stroke-linejoin="round"/></svg>
<div class="r" style="left:3747.5px;top:1399px;width:22.5px;height:363.5px;background:#9ea7b8;border-radius:11px"></div>
<svg class="r" style="left:3747px;top:1778px" width="24" height="20" viewBox="0 0 24 20" fill="none"><path d="M4 4 L20 4 L12 16 Z" fill="#9ca5b7" stroke="#9ca5b7" stroke-width="5" stroke-linejoin="round"/></svg>
<svg class="r" style="left:712px;top:1814px" width="21" height="25" viewBox="0 0 21 25" fill="none"><path d="M17 4.5 L17 20.5 L4.5 12.5 Z" fill="#9ca5b7" stroke="#9ca5b7" stroke-width="5" stroke-linejoin="round"/></svg>
<div class="r" style="left:747.5px;top:1815.5px;width:2946px;height:22px;background:#9ea7b8;border-radius:11px"></div>
<svg class="r" style="left:3709.5px;top:1814px" width="21" height="25" viewBox="0 0 21 25" fill="none"><path d="M4 4.5 L4 20.5 L16.5 12.5 Z" fill="#9ca5b7" stroke="#9ca5b7" stroke-width="5" stroke-linejoin="round"/></svg>
<div class="r" style="left:753.5px;top:1896px;width:249px;height:59.5px;border:2px solid #dfe3ef;border-radius:10px;background:#fff;box-sizing:border-box"></div>
<div class="r" style="left:836px;top:1896px;width:85px;height:59.5px;border:2.5px solid #4e70fa;background:#fff;box-sizing:border-box"></div>
<div class="t" style="left:778.40px;top:1903.89px;font-size:33.5px;line-height:44px;color:#6b7488;letter-spacing:0.000px;">10</div>
<div class="t" style="left:860.10px;top:1903.89px;font-size:33.5px;line-height:44px;color:#4e70fa;letter-spacing:0.000px;">50</div>
<div class="t" style="left:933.80px;top:1903.89px;font-size:33.5px;line-height:44px;color:#6b7488;letter-spacing:0.000px;">100</div>
<div class="t" style="left:1022.20px;top:1903.89px;font-size:33.5px;line-height:44px;color:#6b7488;letter-spacing:-0.743px;">items per page</div>
<div class="r" style="left:3138px;top:894px;width:527px;height:514px;background:#fff;box-shadow:0 12px 64px 12px rgba(30,40,85,0.075),0 4px 14px rgba(30,40,85,0.05)"></div>
<div class="r" style="left:3138px;top:923.5px;width:527px;height:80px;background:#f5f6f9"></div>
<svg class="r" style="left:3187px;top:944px" width="42" height="42" viewBox="0 0 42 42" fill="none"><path d="M29 4 L38 13 L15 36 L3.5 38.5 L6 27 Z M24.5 8.5 L33.5 17.5" stroke="#4e70fa" stroke-width="3.4" stroke-linejoin="round"/></svg>
<div class="t" style="left:3247.50px;top:940.53px;font-size:36px;line-height:47px;color:#4e70fa;letter-spacing:0.778px;">Manage Configuration</div>
<svg class="r" style="left:3187px;top:1027px" width="42" height="39" viewBox="0 0 42 39" fill="none"><g stroke="#9ca5b7" stroke-width="3.7"><circle cx="15" cy="15" r="12"/><path d="M30.5 16.5 C35 19 37.5 23 37.5 27 C37.5 32.5 33 36.5 27.5 36.5 C23.5 36.5 20 34.5 18.5 31"/></g></svg>
<div class="t" style="left:3248.50px;top:1020.53px;font-size:36px;line-height:47px;color:#0e1b56;letter-spacing:0.445px;">Clone Object</div>
<svg class="r" style="left:3188px;top:1105px" width="40" height="40" viewBox="0 0 40 40" fill="none"><g transform="scale(1.3333333333333333)"><circle cx="15" cy="15" r="13.3" stroke="#9ca5b7" stroke-width="2.5500000000000003"/><circle cx="15.3" cy="8.3" r="2.6" fill="#9ca5b7"/><path d="M12.3 12.8 L16 12.8 L16 20.8 M12.3 21.3 L18.6 21.3" stroke="#9ca5b7" stroke-width="3.6" stroke-linecap="round" stroke-linejoin="round"/></g></svg>
<div class="t" style="left:3248.50px;top:1101.53px;font-size:36px;line-height:47px;color:#0e1b56;letter-spacing:0.539px;">Show Status</div>
<svg class="r" style="left:3188px;top:1186px" width="40" height="40" viewBox="0 0 40 40" fill="none"><g transform="scale(1.3333333333333333)"><circle cx="15" cy="15" r="13.3" stroke="#9ca5b7" stroke-width="2.5500000000000003"/><circle cx="15.3" cy="8.3" r="2.6" fill="#9ca5b7"/><path d="M12.3 12.8 L16 12.8 L16 20.8 M12.3 21.3 L18.6 21.3" stroke="#9ca5b7" stroke-width="3.6" stroke-linecap="round" stroke-linejoin="round"/></g></svg>
<div class="t" style="left:3248.50px;top:1182.03px;font-size:36px;line-height:47px;color:#0e1b56;letter-spacing:0.551px;">Show Child Objects</div>
<div class="r" style="left:3138px;top:1270.5px;width:527px;height:2px;background:#e5e8f2"></div>
<svg class="r" style="left:3187px;top:1318px" width="42" height="43" viewBox="0 0 42 43" fill="none"><g stroke="#f04a2a" stroke-width="3.8" stroke-linejoin="round" stroke-linecap="round"><path d="M2.5 9.5 L39.5 9.5"/><path d="M13.5 9.5 L13.5 3 L28.5 3 L28.5 9.5"/><path d="M6.5 9.5 L6.5 36 C6.5 38.5 8 40 10.5 40 L31.5 40 C34 40 35.5 38.5 35.5 36 L35.5 9.5"/><path d="M16.5 18 L16.5 31 M25.5 18 L25.5 31"/></g></svg>
<div class="t" style="left:3247.50px;top:1314.63px;font-size:36px;line-height:47px;color:#f04a2a;letter-spacing:0.592px;">Delete</div>
</body></html>
